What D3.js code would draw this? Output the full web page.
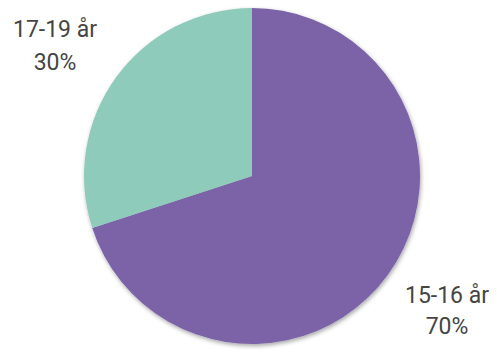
<!DOCTYPE html>
<html>
<head>
<meta charset="utf-8">
<script src="https://cdn.jsdelivr.net/npm/d3@7"></script>
<style>
  body { margin: 0; background: #fff; }
  text { font-family: Roboto, "Noto Sans", sans-serif; }
</style>
</head>
<body>
<svg width="497" height="354"></svg>
<script>
var categories = ["15-16 år", "17-19 år"];
var values = [70, 30];
var pctLabels = ["70%", "30%"];
var colors = ["#7b64a8", "#8ecbbb"];

var svg = d3.select("svg"),
  width = +svg.attr("width"),
  height = +svg.attr("height");

var cx = 252, cy = 176, r = 168;

var defs = svg.append("defs");
var filt = defs.append("filter")
  .attr("id", "shadow")
  .attr("x", "-10%").attr("y", "-10%")
  .attr("width", "120%").attr("height", "120%");
filt.append("feDropShadow")
  .attr("dx", 1).attr("dy", 2)
  .attr("stdDeviation", 2)
  .attr("flood-color", "#000")
  .attr("flood-opacity", 0.35);

var pie = d3.pie().sort(null).value(function(d) { return d; });
var arc = d3.arc().innerRadius(0).outerRadius(r);

var g = svg.append("g")
  .attr("transform", "translate(" + cx + "," + cy + ")")
  .attr("filter", "url(#shadow)");

g.selectAll("path")
  .data(pie(values))
  .enter().append("path")
  .attr("d", arc)
  .attr("fill", function(d, i) { return colors[i]; });

// labels outside the pie
var labelPos = [
  { x: 447, y1: 303, y2: 334 },
  { x: 55, y1: 37, y2: 70 }
];

var labels = svg.append("g")
  .selectAll("text")
  .data(categories)
  .enter().append("text")
  .attr("text-anchor", "middle")
  .attr("font-size", 23)
  .attr("fill", "#454545");

labels.append("tspan")
  .attr("x", function(d, i) { return labelPos[i].x; })
  .attr("y", function(d, i) { return labelPos[i].y1; })
  .text(function(d) { return d; });

labels.append("tspan")
  .attr("x", function(d, i) { return labelPos[i].x; })
  .attr("y", function(d, i) { return labelPos[i].y2; })
  .text(function(d, i) { return pctLabels[i]; });
</script>
</body>
</html>
